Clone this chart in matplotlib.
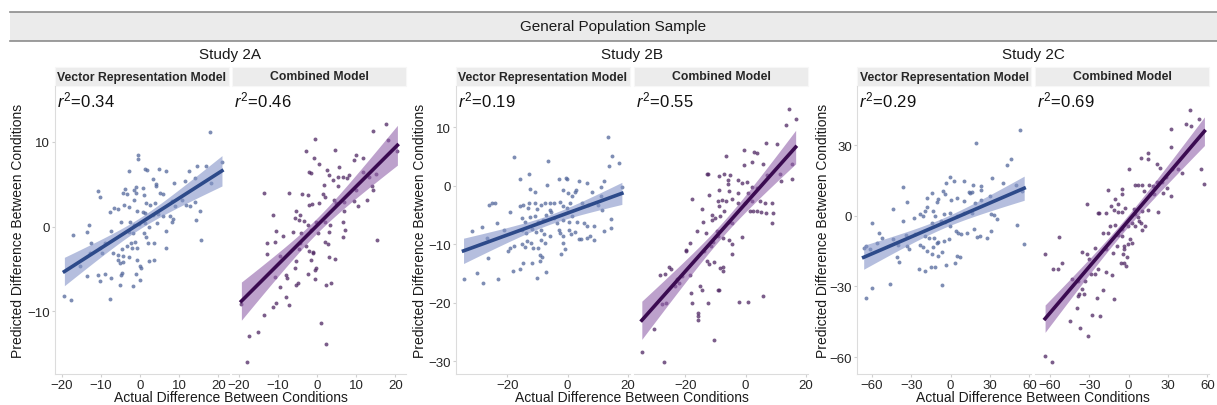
import numpy as np
import matplotlib.pyplot as plt
from matplotlib.patches import Rectangle
from matplotlib.lines import Line2D

plt.rcParams['font.family'] = ['Liberation Sans', 'DejaVu Sans']
plt.rcParams['mathtext.fontset'] = 'custom'
plt.rcParams['mathtext.rm'] = 'Liberation Sans'
plt.rcParams['mathtext.it'] = 'Liberation Sans:italic'

# data: (actual, predicted) per panel
s2a_vec = [(17.9, 11.2), (-0.5, 8.4), (-0.7, 8.0), (-2.8, 6.6), (1.2, 6.8), (1.8, 6.7), (4.9, 6.8), (6.6, 6.6),
           (12.5, 6.6), (14.4, 7.2), (16.9, 7.1), (20.9, 7.6), (18.2, 5.1), (13.9, 5.7), (11.4, 5.4), (8.6, 5.1),
           (3.3, 5.6), (4.0, 4.8), (4.0, 5.0), (0.6, 4.6), (-1.1, 4.7), (-1.6, 4.3), (-3.9, 4.4), (-3.5, 3.9),
           (-4.3, 4.0), (-1.2, 4.0), (0.9, 3.7), (5.0, 4.0), (5.7, 3.8), (-10.9, 4.2), (-10.4, 3.5), (-1.5, 3.2),
           (1.5, 2.8), (2.6, 2.6), (3.7, 2.8), (8.0, 3.0), (8.8, 2.4), (10.8, 3.2), (11.8, 2.6), (13.9, 2.9),
           (12.7, 2.4), (-6.7, 2.2), (-5.8, 2.1), (-7.7, 1.7), (-4.1, 2.6), (-3.0, 2.3), (-0.9, 1.8), (0.6, 1.7),
           (1.2, 1.6), (3.3, 1.4), (4.6, 1.5), (5.9, 1.2), (7.6, 1.3), (8.4, 0.9), (8.0, 0.6), (15.2, 1.8),
           (14.2, 0.8), (-5.0, 0.5), (-2.6, 0.6), (-1.6, 0.2), (-0.2, 0.3), (1.2, 0.4), (2.3, 0.0), (4.2, 0.4),
           (-13.0, 0.2), (-17.2, -1.0), (-13.5, -0.6), (-7.5, -0.5), (-2.8, -0.6), (-1.8, -0.8), (1.0, -0.7),
           (1.6, -1.2), (6.7, -0.5), (-1.3, -1.8), (-2.4, -1.9), (2.0, -1.9), (3.5, -1.9), (-12.6, -1.9),
           (-3.5, -2.3), (-2.2, -2.5), (-0.9, -2.5), (-4.7, -2.7), (6.7, -2.5), (15.6, -1.6), (-9.0, -1.9),
           (-10.3, -2.5), (-9.8, -3.1), (-12.8, -3.1), (-7.0, -3.1), (-5.6, -3.3), (-4.5, -3.5), (-3.0, -3.6),
           (-0.9, -3.9), (-5.6, -4.0), (-4.3, -4.2), (-5.2, -4.3), (2.3, -4.1), (3.6, -3.9), (-0.1, -4.6),
           (0.1, -4.9), (-15.3, -4.7), (-4.7, -5.5), (-5.0, -5.7), (-13.5, -5.8), (-10.7, -5.7), (-9.1, -5.6),
           (-7.5, -6.1), (-10.4, -6.4), (-1.1, -5.6), (-0.1, -6.3), (-5.2, -6.9), (-1.8, -7.0), (-19.4, -8.2),
           (-17.7, -8.7), (-7.7, -8.6)]
s2a_comb = [(17.5, 12.1), (14.3, 11.3), (-0.5, 10.3), (-2.9, 8.9), (4.6, 9.1), (20.5, 8.9), (18.1, 10.2),
            (10.0, 8.4), (11.7, 8.1), (9.4, 7.9), (-0.9, 8.1), (0.4, 7.4), (-2.0, 6.4), (-1.6, 6.3), (2.6, 6.7),
            (3.1, 6.1), (5.6, 7.0), (8.2, 6.1), (6.5, 5.9), (7.5, 5.7), (5.2, 5.9), (4.1, 5.5), (1.8, 4.9),
            (5.4, 4.8), (11.6, 6.4), (13.3, 5.9), (14.9, 6.2), (13.9, 4.8), (14.3, 4.3), (9.9, 4.3), (-13.5, 4.0),
            (-7.1, 4.0), (-3.9, 3.8), (-2.4, 3.7), (1.4, 3.8), (2.0, 3.5), (0.4, 2.8), (-1.3, 2.7), (-2.0, 2.5),
            (4.3, 3.2), (4.9, 2.8), (6.9, 2.9), (9.4, 3.0), (12.6, 3.1), (10.5, 2.4), (6.9, 1.8), (-11.2, 1.4),
            (-5.4, 1.8), (-4.4, 1.4), (-5.8, 1.0), (-4.7, 0.8), (-3.3, 0.7), (-2.4, 0.2), (-0.3, 0.6), (2.1, 0.6),
            (3.2, 0.2), (6.5, 0.6), (-6.1, -0.6), (-4.1, -0.8), (-1.6, -0.4), (0.1, -0.8), (3.1, -0.6),
            (7.1, -0.4), (6.5, -1.2), (-10.5, -0.5), (-8.8, -1.1), (-12.9, -1.9), (-10.9, -1.8), (2.0, -1.8),
            (2.7, -2.1), (15.4, -1.6), (-4.3, -1.9), (-3.0, -2.3), (-4.7, -2.7), (-2.0, -2.9), (-1.0, -3.1),
            (-1.2, -3.0), (-12.9, -3.2), (-9.6, -3.5), (-5.4, -4.1), (-1.6, -3.9), (3.1, -3.6), (4.6, -3.8),
            (-5.8, -4.9), (-0.2, -4.9), (-0.5, -5.1), (-10.9, -6.0), (-8.1, -5.7), (-7.8, -6.1), (-2.4, -5.6),
            (-0.5, -6.2), (-5.4, -6.9), (-5.0, -6.7), (2.2, -6.9), (3.5, -6.7), (-9.5, -7.1), (-8.0, -8.3),
            (-10.5, -9.0), (-7.3, -9.2), (-11.2, -9.5), (-19.4, -9.1), (-13.7, -10.4), (-15.2, -12.4),
            (-17.5, -12.9), (1.0, -11.4), (2.2, -13.8), (-18.0, -16.0)]
s2b_vec = [(13.3, 8.4), (14.7, 5.2), (13.8, 3.4), (16.9, 3.9), (18.0, -0.2), (-17.7, 4.9), (-6.6, 4.2),
           (-13.0, 2.1), (-16.0, 1.2), (-2.8, 1.1), (-0.6, 1.4), (-0.3, 1.1), (3.6, 0.8), (6.4, 0.5), (11.1, -0.2),
           (11.9, 0.8), (-12.5, -0.5), (-10.8, -1.1), (-6.9, 0.1), (-1.7, -0.7), (0.1, -1.3), (2.3, -1.1),
           (2.7, -0.7), (1.4, -1.8), (8.2, -1.1), (-26.3, -3.2), (-25.2, -3.0), (-24.3, -2.9), (-15.8, -3.4),
           (-14.7, -3.2), (-12.8, -2.9), (-10.8, -3.0), (-13.2, -3.8), (-10.2, -3.9), (-8.8, -3.2), (-7.7, -3.0),
           (-6.0, -2.9), (-4.7, -2.9), (-6.0, -4.1), (-5.5, -4.5), (-2.5, -2.8), (-1.4, -3.5), (-0.3, -3.8),
           (0.8, -3.0), (4.7, -2.9), (6.7, -3.2), (11.1, -1.8), (10.2, -3.2), (11.3, -4.2), (-19.3, -4.5),
           (-15.2, -5.5), (-14.3, -6.2), (-12.5, -5.3), (-11.0, -5.1), (-9.9, -6.2), (-8.3, -5.8), (-7.2, -4.9),
           (-4.4, -5.5), (-3.6, -6.3), (-1.7, -5.8), (0.3, -6.2), (1.4, -5.2), (3.0, -6.1), (5.3, -6.4),
           (6.4, -6.9), (8.9, -6.9), (14.4, -5.6), (-23.5, -6.3), (-31.8, -7.8), (-28.5, -7.0), (-21.3, -7.5),
           (-15.2, -7.6), (-13.9, -8.0), (-11.7, -7.4), (-10.6, -7.9), (-8.8, -7.5), (-8.0, -8.3), (-5.8, -8.6),
           (-3.0, -7.6), (-2.5, -8.0), (-1.7, -8.5), (0.3, -7.5), (1.2, -8.3), (2.3, -7.9), (3.6, -9.1),
           (4.5, -9.1), (6.4, -8.9), (7.5, -8.5), (8.9, -9.2), (11.9, -7.8), (14.4, -7.2), (-26.9, -8.9),
           (-8.8, -9.2), (-7.5, -9.8), (-1.4, -9.8), (-12.1, -9.8), (-13.6, -9.5), (-15.2, -10.0), (-14.3, -10.5),
           (-19.1, -10.6), (-19.9, -11.2), (-17.7, -10.3), (-11.4, -10.6), (-9.7, -10.6), (-9.1, -11.8),
           (-8.6, -12.2), (-9.1, -12.9), (-0.8, -10.8), (-2.2, -11.6), (-26.5, -12.3), (-11.9, -13.2),
           (-14.7, -13.2), (-18.0, -14.6), (-15.8, -14.2), (-7.3, -14.8), (-30.2, -14.9), (-34.6, -16.0),
           (-28.0, -16.7), (-23.2, -15.9), (-10.3, -15.7)]
s2b_comb = [(14.5, 13.2), (16.6, 11.5), (13.4, 10.5), (6.7, 7.3), (10.3, 7.1), (-0.4, 6.1), (2.9, 5.8),
            (3.7, 5.7), (-6.6, 5.2), (-0.4, 3.5), (2.0, 4.1), (5.9, 3.8), (7.0, 1.9), (15.3, 3.8), (11.4, 2.1),
            (15.3, 1.1), (11.8, 0.8), (-12.9, 2.1), (-12.6, 2.1), (-8.8, 1.7), (-7.1, 2.1), (-5.2, 1.9),
            (-5.9, 1.0), (-5.9, 0.4), (-2.6, 1.0), (-1.3, 0.5), (0.4, 0.7), (2.0, -0.2), (3.7, -0.3), (0.9, -1.2),
            (-2.4, -1.3), (-8.8, -0.7), (-5.7, -0.9), (-12.1, -1.5), (-17.7, -2.3), (-9.3, -2.6), (-7.9, -2.4),
            (-6.5, -2.6), (-4.6, -2.3), (-8.8, -3.5), (-7.1, -4.3), (-2.6, -2.9), (-0.2, -2.9), (2.0, -2.6),
            (4.8, -2.6), (6.5, -3.0), (8.7, -3.0), (1.5, -4.3), (2.3, -4.3), (3.7, -4.3), (5.1, -4.5), (6.7, -4.6),
            (9.2, -4.6), (-14.4, -3.9), (-11.3, -4.9), (-10.2, -5.5), (-14.2, -6.1), (-11.3, -5.8), (-8.5, -5.2),
            (-5.7, -6.2), (-4.6, -6.4), (8.9, -6.4), (-16.2, -7.8), (-13.3, -8.0), (-9.6, -7.8), (-9.3, -8.6),
            (-7.4, -8.9), (-5.5, -9.3), (-1.3, -8.7), (-18.5, -9.8), (-10.9, -9.6), (-11.5, -10.3), (-4.6, -10.0),
            (-19.8, -10.9), (-19.8, -11.1), (-14.0, -11.2), (-4.6, -11.6), (-12.1, -13.3), (-10.4, -13.1),
            (-7.7, -13.8), (-8.5, -14.0), (-7.4, -14.5), (-12.9, -12.9), (-25.4, -13.8), (-24.8, -14.2),
            (-28.4, -15.2), (-26.8, -15.0), (-21.2, -15.5), (-18.5, -15.3), (-22.9, -16.0), (-23.4, -17.2),
            (-22.1, -16.6), (-15.1, -17.1), (-14.6, -17.8), (-9.0, -17.9), (-18.1, -18.4), (-17.7, -20.0),
            (-12.4, -20.1), (-9.3, -17.9), (5.6, -18.8), (-2.2, -19.9), (0.7, -19.9), (-27.9, -20.3),
            (-26.5, -20.0), (-15.7, -21.7), (-15.9, -22.3), (-15.9, -22.9), (-30.3, -24.5), (-10.4, -26.4),
            (-34.5, -28.4), (-27.0, -30.1)]
s2c_vec = [(53.0, 36.4), (19.7, 31.0), (46.4, 23.9), (42.8, 21.4), (31.8, 16.1), (40.2, 14.0), (49.7, 12.9),
           (54.8, 10.5), (-0.8, 16.4), (2.8, 14.7), (10.0, 14.7), (-3.4, 13.7), (17.2, 12.9), (13.8, 10.1),
           (15.1, 9.5), (16.4, 10.1), (22.8, 12.6), (23.3, 10.9), (-36.7, 12.3), (-14.4, 9.5), (-17.7, 7.7),
           (-5.9, 10.5), (-4.1, 9.1), (-9.3, 7.2), (-10.5, 5.8), (0.0, 6.9), (4.8, 7.7), (10.5, 6.2), (18.2, 5.5),
           (22.8, 6.9), (30.0, 8.6), (-33.6, 5.8), (-43.9, 3.0), (-17.7, 3.8), (-19.5, 2.0), (-13.6, 2.0),
           (-23.4, 0.6), (-20.8, -0.1), (-11.8, -0.1), (-5.4, 0.6), (-0.3, 1.3), (4.8, -0.1), (10.0, 1.3),
           (16.4, 1.3), (31.0, 0.6), (33.1, 0.2), (35.1, -1.5), (-36.7, -2.3), (-28.0, -0.8), (-7.5, -2.3),
           (-4.1, -2.7), (-14.4, -3.0), (-59.8, -3.0), (-54.6, -7.2), (-0.3, -4.4), (3.8, -6.5), (5.7, -7.2),
           (8.2, -7.9), (12.3, -7.2), (17.9, -5.8), (20.0, -8.9), (22.3, -8.6), (27.9, -9.3), (30.5, -6.5),
           (50.5, -4.1), (56.1, -12.2), (-52.8, -9.3), (-44.4, -10.0), (-34.1, -8.3), (-27.2, -7.9),
           (-19.5, -8.6), (-16.2, -9.3), (-12.6, -9.3), (-9.3, -11.2), (-4.9, -10.8), (-1.6, -10.0),
           (-56.2, -11.5), (-64.4, -12.9), (-61.8, -14.0), (-66.4, -13.6), (-40.0, -12.6), (-31.5, -14.0),
           (-33.6, -12.9), (-23.4, -12.6), (-20.8, -13.2), (-13.6, -13.2), (-10.5, -11.5), (-18.3, -15.0),
           (-14.4, -16.4), (-9.3, -17.1), (-6.7, -15.4), (4.8, -17.1), (7.4, -17.4), (-41.3, -17.4),
           (-39.3, -19.7), (-23.9, -22.8), (-19.5, -23.5), (-15.2, -21.8), (-11.8, -21.8), (-3.4, -21.1),
           (3.5, -19.9), (-46.4, -29.1), (-59.8, -30.6), (-6.7, -29.6), (-64.4, -34.8)]
s2c_comb = [(46.9, 44.9), (53.7, 41.2), (43.6, 38.8), (47.6, 38.1), (32.4, 36.7), (32.4, 29.2), (55.3, 19.7),
            (57.8, 13.3), (0.3, 19.7), (9.5, 24.6), (14.6, 26.8), (15.1, 23.9), (21.4, 21.8), (24.0, 20.4),
            (28.6, 16.6), (32.9, 20.0), (37.9, 19.7), (40.5, 18.0), (4.9, 12.9), (7.4, 12.9), (10.5, 12.9),
            (15.6, 12.9), (18.9, 12.6), (21.4, 14.3), (25.3, 14.3), (29.1, 11.9), (32.4, 8.4), (26.5, 9.8),
            (-4.8, 11.2), (-4.8, 9.1), (12.0, 10.5), (16.3, 9.1), (19.6, 9.1), (-16.0, 10.9), (-10.4, 7.0),
            (-8.4, 4.8), (-13.4, 4.1), (-10.9, 2.4), (-7.9, 1.6), (-4.8, 1.6), (-32.0, 4.8), (-23.1, 1.3),
            (-22.4, 1.0), (-17.5, 1.0), (-2.8, 3.4), (4.4, 2.7), (4.9, 0.6), (10.0, 2.0), (14.6, 2.4), (22.2, 1.6),
            (7.4, -0.4), (7.9, -2.3), (9.5, -3.0), (12.5, -4.4), (10.0, -6.1), (4.9, -4.4), (2.3, -3.2),
            (-0.7, -4.4), (-4.8, -5.8), (-10.4, -4.1), (-14.2, -4.4), (-16.0, -7.2), (-19.3, -7.2), (-7.9, -8.3),
            (-4.8, -8.6), (1.1, -10.0), (2.3, -11.5), (-0.2, -12.2), (-3.3, -12.9), (-3.3, -14.3), (-4.0, -16.4),
            (-1.5, -17.4), (-3.3, -19.9), (-2.2, -21.4), (-5.8, -19.9), (-9.1, -12.9), (-11.6, -15.7),
            (-17.5, -14.0), (-25.6, -13.6), (-32.0, -16.4), (-35.3, -15.4), (-30.2, -18.5), (-23.1, -22.8),
            (-28.7, -24.9), (-25.6, -24.9), (-17.5, -23.9), (-12.4, -25.3), (-63.8, -16.4), (-53.1, -8.9),
            (-51.1, -20.2), (-57.5, -22.5), (-54.2, -22.8), (-42.9, -26.7), (-38.9, -27.7), (-33.3, -27.7),
            (-35.3, -31.0), (-37.9, -33.4), (-38.9, -34.1), (-33.8, -33.4), (-24.4, -34.8), (-19.3, -31.5),
            (-10.9, -35.2), (-39.6, -39.1), (-27.7, -42.3), (-21.8, -42.6), (-44.7, -44.7), (-37.1, -47.5),
            (-30.7, -51.1), (-63.8, -59.6), (-58.2, -62.1)]

studies = ['Study 2A', 'Study 2B', 'Study 2C']
models = ['Vector Representation Model', 'Combined Model']
r2_labels = [['0.34', '0.46'], ['0.19', '0.55'], ['0.29', '0.69']]
panels = [[s2a_vec, s2a_comb], [s2b_vec, s2b_comb], [s2c_vec, s2c_comb]]
xticks = [[-20, -10, 0, 10, 20], [-20, 0, 20], [-60, -30, 0, 30, 60]]
yticks = [[-10, 0, 10], [-30, -20, -10, 0, 10], [-60, -30, 0, 30]]

xlims = [(-21.8, 22.7), (-37.1, 20.7), (-71.5, 61.3)]
ylims = [(-17.4, 16.6), (-32.2, 17.1), (-67.2, 55.1)]
pt_col = ['#53679b', '#4f2763']
line_col = ['#2d4a8a', '#3b0b51']
band_col = ['#8494c8', '#9162aa']

W, H = 1217, 406
fig = plt.figure(figsize=(W / 100, H / 100), dpi=100)

# top header strip
fig.add_artist(Rectangle((10 / W, 1 - 42 / H), 1 - 10 / W, 29 / H, transform=fig.transFigure,
                         facecolor='#ebebeb', edgecolor='none'))
for yy in (13, 42):
    fig.add_artist(Line2D([10 / W, 1], [1 - yy / H] * 2, transform=fig.transFigure, color='#8c8c8c', lw=1.2))
fig.text(613 / W, 1 - 27.5 / H, 'General Population Sample', ha='center', va='center', fontsize=11, color='#1a1a1a')

lefts = [[55, 232], [456, 634], [857, 1035]]
ylab_x = [18, 420, 823]
pw = 174
top, bot = 87, 375

for i in range(3):
    for j in range(2):
        l = lefts[i][j]
        ax = fig.add_axes([l / W, 1 - bot / H, pw / W, (bot - top) / H])
        pts = np.array(panels[i][j])
        x, y = pts[:, 0], pts[:, 1]
        ax.scatter(x, y, s=8, color=pt_col[j], alpha=0.75, linewidths=0, zorder=2)

        # OLS fit with 95% band
        b, a = np.polyfit(x, y, 1)
        n = len(x)
        resid = y - (a + b * x)
        sres = np.sqrt(np.sum(resid ** 2) / (n - 2))
        xs = np.linspace(x.min(), x.max(), 100)
        se = sres * np.sqrt(1 / n + (xs - x.mean()) ** 2 / np.sum((x - x.mean()) ** 2))
        ys = a + b * xs
        ax.fill_between(xs, ys - 1.98 * se, ys + 1.98 * se, color=band_col[j], alpha=0.6, lw=0, zorder=3)
        ax.plot(xs, ys, color=line_col[j], lw=2.6, zorder=4)

        ax.set_xlim(xlims[i])
        ax.set_ylim(ylims[i])
        ax.set_xticks(xticks[i])
        ax.set_yticks(yticks[i])
        ax.set_xticklabels([str(t).replace('-', '\u2212') for t in xticks[i]])
        ax.set_yticklabels([str(t).replace('-', '\u2212') for t in yticks[i]])
        for s in ('top', 'right'):
            ax.spines[s].set_visible(False)
        ax.spines['bottom'].set_color('#dcdcdc')
        ax.spines['left'].set_color('#dcdcdc')
        ax.tick_params(length=2.5, color='#d0d0d0', labelsize=9.5, labelcolor='#262626', pad=1)
        if j == 1:
            ax.spines['left'].set_visible(False)
            ax.tick_params(axis='y', left=False, labelleft=False)

        # facet strip
        ax.add_patch(Rectangle((0, 1), 1, 19 / (bot - top), transform=ax.transAxes, clip_on=False,
                               facecolor='#ececec', edgecolor='#f7f7f7', lw=0.8))
        ax.text(0.5, 1 + 9.5 / (bot - top), models[j], transform=ax.transAxes, ha='center', va='center',
                fontsize=8.8, fontweight='bold', color='#262626')
        ax.text(0.01, 0.953, r'$r^2\!=\!$' + r2_labels[i][j], transform=ax.transAxes, ha='left', va='center',
                fontsize=12, color='#111111')

    cx = (lefts[i][0] + lefts[i][1] + pw) / 2
    fig.text(cx / W, 1 - 55 / H, studies[i], ha='center', va='center', fontsize=11, color='#1a1a1a')
    fig.text(cx / W, 1 - 398.5 / H, 'Actual Difference Between Conditions', ha='center', va='center',
             fontsize=10, color='#1a1a1a')
    fig.text(ylab_x[i] / W, 1 - 231 / H, 'Predicted Difference Between Conditions', ha='center',
             va='center', rotation=90, fontsize=10, color='#1a1a1a')

fig.savefig('out.png', dpi=100)
